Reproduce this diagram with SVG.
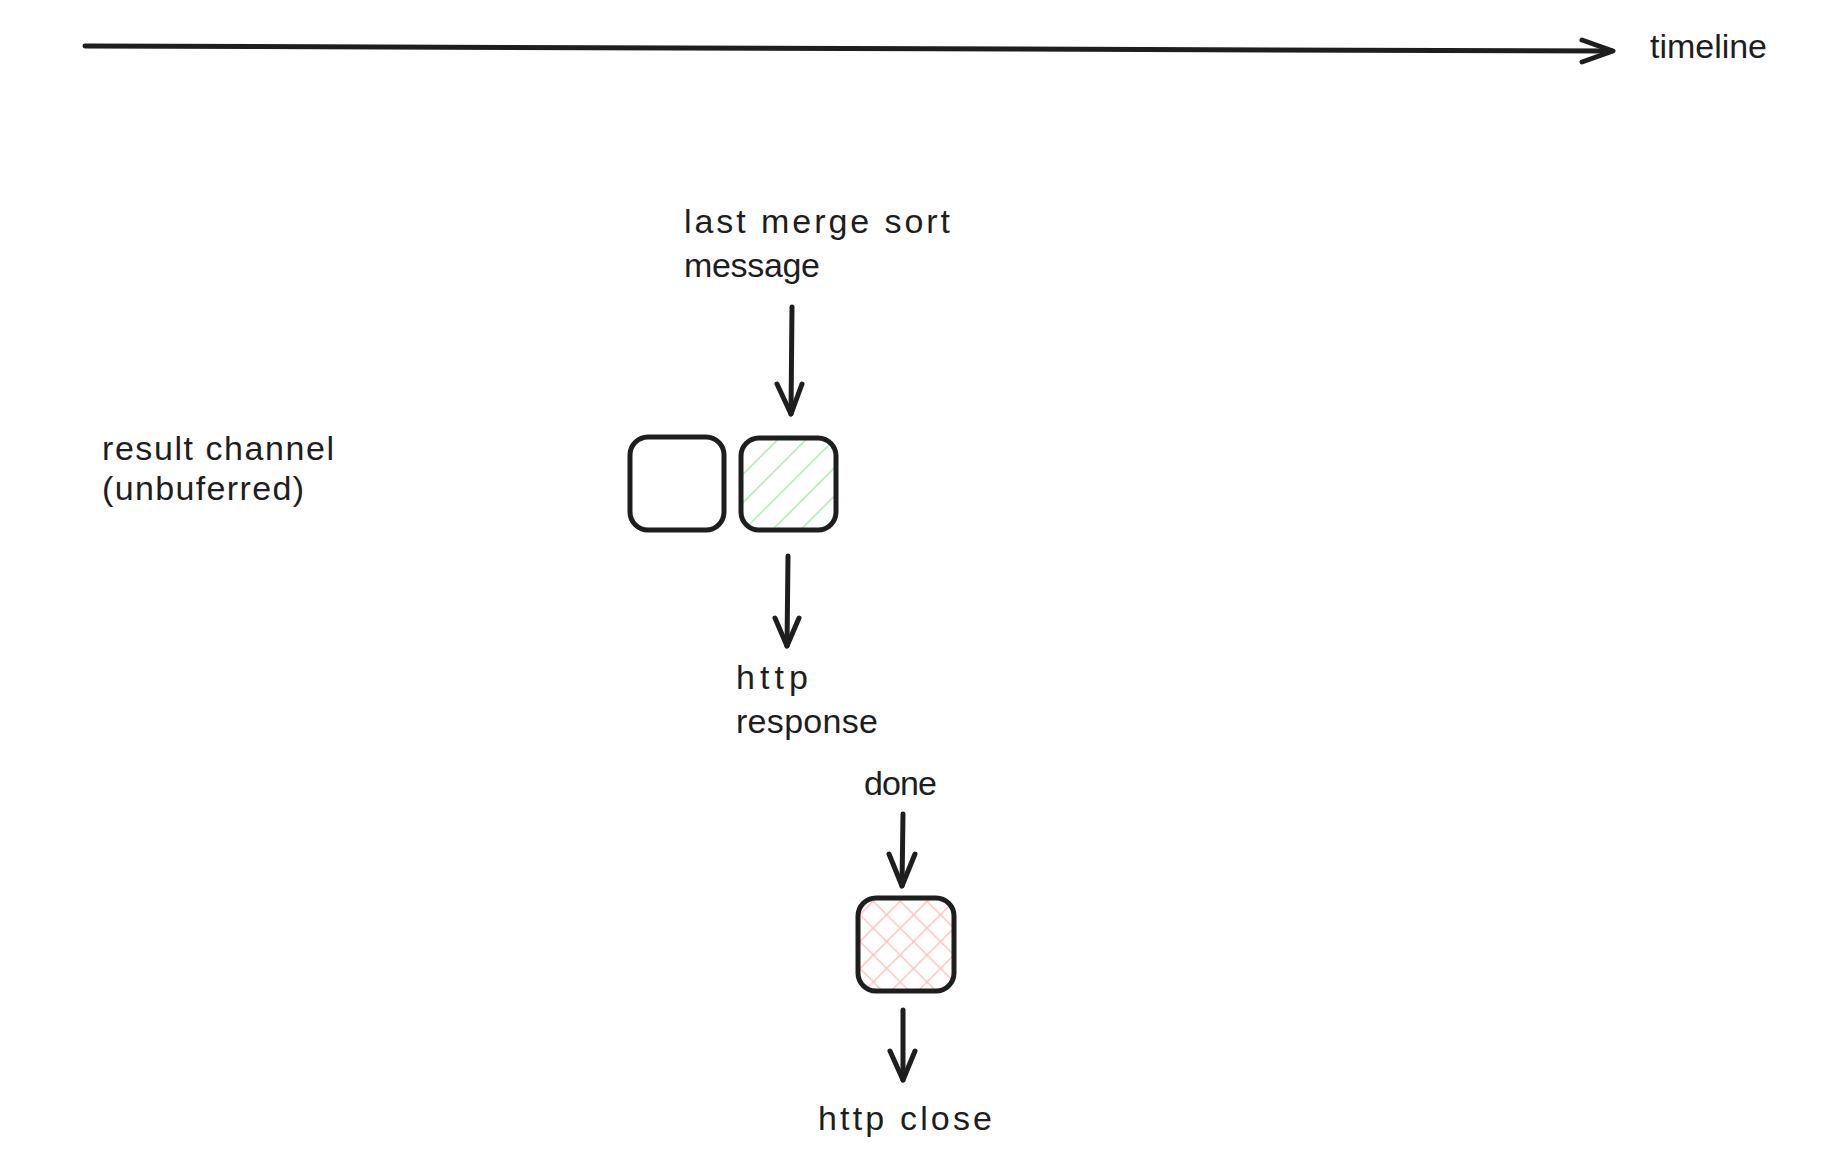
<svg xmlns="http://www.w3.org/2000/svg" width="1822" height="1168" viewBox="0 0 1822 1168">
  <style>
    .lbl { font-family: "Liberation Sans", Arial, sans-serif; font-size: 34px; fill: #1e1e1e; }
    .ln { fill: none; stroke: #1e1e1e; stroke-width: 5; stroke-linecap: round; stroke-linejoin: round; }
    .box { stroke: #1e1e1e; stroke-width: 5; }
  </style>
  <defs>
    <pattern id="hatchGreen" patternUnits="userSpaceOnUse" width="20" height="20" patternTransform="rotate(45)">
      <line x1="0" y1="0" x2="0" y2="20" stroke="#a9eab3" stroke-width="3"/>
    </pattern>
    <pattern id="crossPink" patternUnits="userSpaceOnUse" width="19" height="19" patternTransform="rotate(45)">
      <line x1="0" y1="0" x2="0" y2="19" stroke="#ffc2c2" stroke-width="3"/>
      <line x1="0" y1="0" x2="19" y2="0" stroke="#ffc2c2" stroke-width="3"/>
    </pattern>
  </defs>

  <rect width="1822" height="1168" fill="#ffffff"/>

  <g id="connectors">
    <path class="ln" d="M85 46 Q 850 48 1612 51"/>
    <path class="ln" d="M1582 40 L1613 51 L1582 62"/>
    <path class="ln" d="M792 307 L791 414"/>
    <path class="ln" d="M777 384 L791 414 L802 384"/>
    <path class="ln" d="M788 556 L787 646"/>
    <path class="ln" d="M775 618 L787 646 L799 618"/>
    <path class="ln" d="M903 814 L902 886"/>
    <path class="ln" d="M889 854 L902 886 L915 854"/>
    <path class="ln" d="M903 1010 L903 1080"/>
    <path class="ln" d="M890 1051 L903 1080 L915 1051"/>
  </g>

  <g id="timeline-label">
    <text class="lbl" x="1650" y="58" textLength="117" lengthAdjust="spacing">timeline</text>
  </g>

  <g id="last-merge-sort-message">
    <text class="lbl" x="684" y="233" textLength="266" lengthAdjust="spacing">last merge sort</text>
    <text class="lbl" x="684" y="277" textLength="136" lengthAdjust="spacing">message</text>
  </g>

  <g id="result-channel-label">
    <text class="lbl" x="102" y="460" textLength="232" lengthAdjust="spacing">result channel</text>
    <text class="lbl" x="102" y="500" textLength="202" lengthAdjust="spacing">(unbuferred)</text>
  </g>

  <g id="slot-empty">
    <rect class="box" x="630" y="437" width="94" height="93" rx="18" fill="none"/>
  </g>

  <g id="slot-filled">
    <rect x="742" y="439" width="93" height="90" rx="16" fill="url(#hatchGreen)"/>
    <rect class="box" x="741" y="438" width="95" height="92" rx="18" fill="none"/>
  </g>

  <g id="http-response">
    <text class="lbl" x="736" y="689" textLength="72" lengthAdjust="spacing">http</text>
    <text class="lbl" x="736" y="733" textLength="142" lengthAdjust="spacing">response</text>
  </g>

  <g id="done-label">
    <text class="lbl" x="864" y="795" textLength="73" lengthAdjust="spacing">done</text>
  </g>

  <g id="done-box">
    <rect x="859" y="899" width="94" height="91" rx="16" fill="url(#crossPink)"/>
    <rect class="box" x="858" y="898" width="96" height="93" rx="18" fill="none"/>
  </g>

  <g id="http-close">
    <text class="lbl" x="818" y="1130" textLength="174" lengthAdjust="spacing">http close</text>
  </g>
</svg>
